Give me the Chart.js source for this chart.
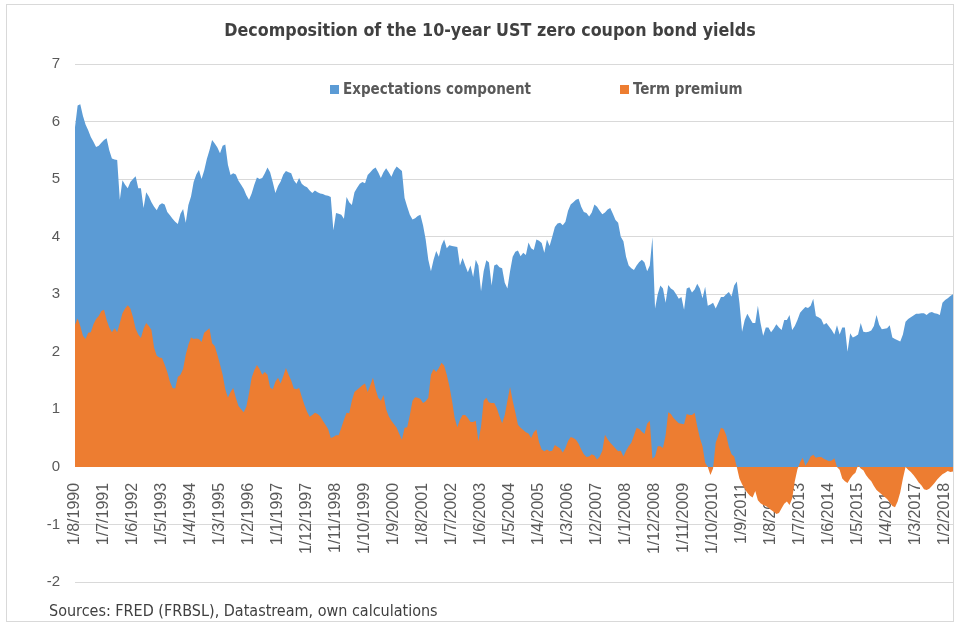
<!DOCTYPE html>
<html>
<head>
<meta charset="utf-8">
<script src="https://cdn.jsdelivr.net/npm/chart.js@4.4.1/dist/chart.umd.min.js"></script>
<style>
  html, body { margin: 0; padding: 0; background: #fff; }
  #wrap { position: relative; width: 957px; height: 627px; }
</style>
</head>
<body>
<div id="wrap"><canvas id="yieldChart" width="957" height="627"></canvas></div>
<script>
// monthly observations, Aug 1990 .. May 2018
const startYear = 1990;
const startMonth = 8;

const expectations = [
    5.9, 6.28, 6.3, 6.1, 5.95, 5.85, 5.73, 5.65, 5.56, 5.58, 5.63, 5.68,
    5.71, 5.5, 5.36, 5.34, 5.33, 4.64, 4.98, 4.9, 4.84, 4.95, 5.0, 5.05,
    4.84, 4.84, 4.5, 4.77, 4.7, 4.6, 4.52, 4.46, 4.55, 4.58, 4.56, 4.43,
    4.37, 4.31, 4.26, 4.22, 4.4, 4.48, 4.24, 4.55, 4.7, 4.95, 5.08, 5.16,
    5.0, 5.15, 5.35, 5.5, 5.68, 5.62, 5.55, 5.45, 5.58, 5.6, 5.25, 5.07,
    5.1, 5.08, 4.97, 4.9, 4.83, 4.72, 4.64, 4.75, 4.9, 5.03, 5.0, 5.02,
    5.1, 5.2, 5.12, 4.95, 4.76, 4.88, 4.96, 5.08, 5.14, 5.12, 5.1, 4.98,
    4.92, 5.02, 4.92, 4.88, 4.86, 4.8, 4.76, 4.8, 4.77, 4.75, 4.74, 4.72,
    4.71, 4.69, 4.11, 4.41, 4.4, 4.38, 4.31, 4.69, 4.6, 4.55, 4.77, 4.85,
    4.92, 4.95, 4.93, 5.07, 5.12, 5.17, 5.2, 5.12, 5.02, 5.12, 5.19, 5.12,
    5.04, 5.15, 5.22, 5.18, 5.14, 4.67, 4.52, 4.38, 4.3, 4.32, 4.36, 4.38,
    4.2, 3.95, 3.6, 3.4, 3.6, 3.75, 3.65, 3.85, 3.95, 3.8, 3.85, 3.84,
    3.83, 3.82, 3.5, 3.63, 3.5, 3.38, 3.5, 3.3, 3.6, 3.5, 3.05, 3.4,
    3.59, 3.55, 3.15, 3.5, 3.52, 3.47, 3.45, 3.2, 3.1, 3.4, 3.65, 3.74,
    3.76, 3.66, 3.72, 3.68, 3.9, 3.8, 3.77, 3.95, 3.93, 3.89, 3.72, 3.95,
    3.84, 4.0, 4.17, 4.23, 4.24, 4.2, 4.26, 4.45, 4.56, 4.6, 4.64, 4.66,
    4.52, 4.43, 4.41, 4.35, 4.42, 4.56, 4.52, 4.45, 4.39, 4.42, 4.47, 4.5,
    4.4, 4.29, 4.24, 4.0, 3.92, 3.65, 3.5, 3.45, 3.42, 3.5, 3.56, 3.6,
    3.55, 3.4, 3.5, 3.99, 2.75, 3.0, 3.15, 3.1, 2.85, 3.16, 3.1, 3.07,
    3.0, 2.92, 2.95, 2.73, 3.1, 3.12, 3.03, 3.08, 3.18, 3.1, 2.93, 3.13,
    2.8, 2.82, 2.85, 2.75, 2.85, 2.95, 2.95, 3.0, 3.04, 2.96, 3.15, 3.22,
    2.85, 2.35, 2.55, 2.66, 2.58, 2.5, 2.5, 2.8, 2.5, 2.28, 2.42, 2.42,
    2.34, 2.4, 2.48, 2.42, 2.38, 2.55, 2.55, 2.64, 2.38, 2.45, 2.55, 2.68,
    2.73, 2.78, 2.76, 2.8, 2.92, 2.62, 2.6, 2.57, 2.47, 2.5, 2.44, 2.38,
    2.3, 2.46, 2.3, 2.42, 2.42, 2.0, 2.32, 2.25, 2.27, 2.3, 2.5, 2.35,
    2.34, 2.35, 2.37, 2.45, 2.64, 2.47, 2.39, 2.4, 2.41, 2.46, 2.25, 2.22,
    2.2, 2.18, 2.3, 2.52, 2.57, 2.6, 2.63, 2.66, 2.66, 2.67, 2.67, 2.64,
    2.68, 2.69, 2.67, 2.66, 2.64, 2.85, 2.9, 2.93, 2.97, 3.0
];

const termPremium = [
    2.47, 2.58, 2.45, 2.28, 2.22, 2.33, 2.34, 2.48, 2.57, 2.62, 2.71, 2.73,
    2.55, 2.42, 2.34, 2.41, 2.34, 2.5, 2.67, 2.75, 2.81, 2.75, 2.6, 2.4,
    2.3, 2.24, 2.4, 2.5, 2.45, 2.38, 2.07, 1.93, 1.9, 1.89, 1.78, 1.65,
    1.48, 1.37, 1.36, 1.56, 1.6, 1.7, 1.95, 2.12, 2.25, 2.22, 2.23, 2.22,
    2.17, 2.33, 2.37, 2.41, 2.15, 2.1, 1.95, 1.78, 1.6, 1.35, 1.2, 1.3,
    1.37, 1.2, 1.06, 1.0, 0.95, 1.05, 1.28, 1.55, 1.68, 1.77, 1.7, 1.6,
    1.65, 1.6, 1.38, 1.35, 1.48, 1.55, 1.45, 1.58, 1.72, 1.6, 1.5, 1.36,
    1.35, 1.37, 1.22, 1.08, 0.96, 0.87, 0.9, 0.94, 0.92, 0.88, 0.8, 0.73,
    0.66, 0.5, 0.52, 0.55, 0.55, 0.68, 0.82, 0.94, 0.93, 1.15, 1.3, 1.34,
    1.38, 1.42, 1.45, 1.3, 1.42, 1.55, 1.35, 1.2, 1.15, 1.25, 1.0, 0.88,
    0.8, 0.74, 0.68, 0.57, 0.47, 0.68, 0.69, 0.9, 1.15, 1.21, 1.2, 1.18,
    1.11, 1.14, 1.2, 1.6, 1.7, 1.65, 1.72, 1.81, 1.76, 1.6, 1.4, 1.15,
    0.85, 0.69, 0.82, 0.9, 0.9, 0.85, 0.78, 0.78, 0.8, 0.45, 0.7, 1.15,
    1.2, 1.12, 1.11, 1.11, 1.02, 0.88, 0.76, 0.9, 1.15, 1.39, 1.15, 0.95,
    0.73, 0.68, 0.64, 0.6, 0.58, 0.5, 0.6, 0.65, 0.43, 0.3, 0.27, 0.3,
    0.27, 0.28, 0.38, 0.35, 0.32, 0.25, 0.33, 0.45, 0.52, 0.5, 0.47, 0.4,
    0.3, 0.22, 0.17, 0.18, 0.22, 0.2, 0.13, 0.18, 0.28, 0.56, 0.48, 0.42,
    0.37, 0.32, 0.27, 0.28, 0.18, 0.28, 0.36, 0.42, 0.55, 0.68, 0.66, 0.61,
    0.57, 0.75, 0.8, 0.14, 0.18, 0.36, 0.36, 0.33, 0.55, 0.95, 0.92, 0.85,
    0.8, 0.76, 0.75, 0.74, 0.92, 0.9, 0.9, 0.94, 0.7, 0.5, 0.36, 0.07,
    0.0, -0.14, -0.03, 0.42, 0.55, 0.68, 0.66, 0.55, 0.35, 0.22, 0.18, 0.0,
    -0.2, -0.3, -0.38, -0.45, -0.5, -0.53, -0.42, -0.58, -0.63, -0.66, -0.68, -0.71,
    -0.75, -0.78, -0.82, -0.8, -0.72, -0.64, -0.6, -0.66, -0.55, -0.25, -0.04, 0.08,
    0.16, 0.02, 0.09, 0.18, 0.21, 0.16, 0.17, 0.17, 0.14, 0.12, 0.1, 0.11,
    0.15, 0.0, -0.05, -0.2, -0.25, -0.28, -0.2, -0.14, -0.1, 0.03, -0.03, -0.06,
    -0.14, -0.2, -0.25, -0.33, -0.4, -0.44, -0.48, -0.52, -0.56, -0.62, -0.68, -0.7,
    -0.6, -0.44, -0.2, 0.0, -0.05, -0.09, -0.14, -0.2, -0.27, -0.32, -0.39, -0.4,
    -0.38, -0.33, -0.28, -0.22, -0.17, -0.13, -0.1, -0.07, -0.09, -0.08
];

const seriesNames = ['Expectations component', 'Term premium'];
const yTicks = [-2, -1, 0, 1, 2, 3, 4, 5, 6, 7];
const labelEvery = 11; // a label every 11 months, as in the original
const titleText = 'Decomposition of the 10-year UST zero coupon bond yields';
const sourceText = 'Sources: FRED (FRBSL), Datastream, own calculations';

// month labels, d/m/yyyy
const months = [];
for (let i = 0; i < expectations.length; i++) {
    const m = (startMonth - 1 + i) % 12 + 1;
    const y = startYear + Math.floor((startMonth - 1 + i) / 12);
    months.push('1/' + m + '/' + y);
}

const BLUE = '#5B9BD5';
const ORANGE = '#ED7D31';
const NARROW = "'Liberation Sans Narrow', 'DejaVu Sans Condensed', sans-serif";

// title, legend, source line and frame
const decor = {
    id: 'decor',
    afterDraw(chart) {
        const ctx = chart.ctx;
        ctx.save();
        ctx.strokeStyle = '#d9d9d9';
        ctx.lineWidth = 1;
        ctx.strokeRect(6.5, 4.5, 947, 617);

        ctx.fillStyle = '#404040';
        ctx.font = 'bold 17.7px ' + NARROW;
        ctx.textAlign = 'center';
        ctx.textBaseline = 'middle';
        ctx.fillText(titleText, 490, 31);

        ctx.font = 'bold 15px ' + NARROW;
        ctx.textAlign = 'left';
        const items = [[330, BLUE, seriesNames[0]], [620, ORANGE, seriesNames[1]]];
        items.forEach(([x, col, txt]) => {
            ctx.fillStyle = col;
            ctx.fillRect(x, 85, 9, 9);
            ctx.fillStyle = '#595959';
            ctx.fillText(txt, x + 13, 90);
        });

        ctx.fillStyle = '#404040';
        ctx.font = '16px ' + NARROW;
        ctx.fillText(sourceText, 49, 612);
        ctx.restore();
    }
};

const ctx = document.getElementById('yieldChart').getContext('2d');
const yieldChart = new Chart(ctx, {
    type: 'line',
    data: {
        labels: months,
        datasets: [
            {
                label: seriesNames[0],
                data: expectations,
                backgroundColor: BLUE,
                borderWidth: 0,
                pointRadius: 0,
                fill: 'origin',
                order: 2,
            },
            {
                label: seriesNames[1],
                data: termPremium,
                backgroundColor: ORANGE,
                borderWidth: 0,
                pointRadius: 0,
                fill: 'origin',
                order: 1,
            },
        ],
    },
    options: {
        responsive: false,
        animation: false,
        layout: { padding: { left: 5, right: 4, top: 64, bottom: 45 } },
        plugins: {
            legend: { display: false },
            tooltip: { enabled: false },
        },
        scales: {
            x: {
                position: { y: 0 },
                z: 1,
                grid: { display: false },
                border: { display: false },
                afterFit: (scale) => { scale.paddingLeft = 0; scale.paddingRight = 0; },
                ticks: {
                    autoSkip: false,
                    minRotation: 90,
                    maxRotation: 90,
                    padding: 8,
                    color: '#595959',
                    font: { family: 'Liberation Sans', size: 16 },
                    callback: function (value, index) {
                        return index % labelEvery === 0 ? months[index] : null;
                    },
                },
            },
            y: {
                min: yTicks[0],
                max: yTicks[yTicks.length - 1],
                afterFit: (scale) => { scale.width = 70; },
                afterBuildTicks: (scale) => { scale.ticks = yTicks.map(v => ({ value: v })); },
                grid: { color: '#d9d9d9', lineWidth: 1, drawTicks: false },
                border: { display: false },
                ticks: {
                    padding: 15,
                    color: '#595959',
                    font: { family: 'Liberation Sans', size: 15 },
                },
            },
        },
    },
    plugins: [decor],
});
</script>
</body>
</html>
